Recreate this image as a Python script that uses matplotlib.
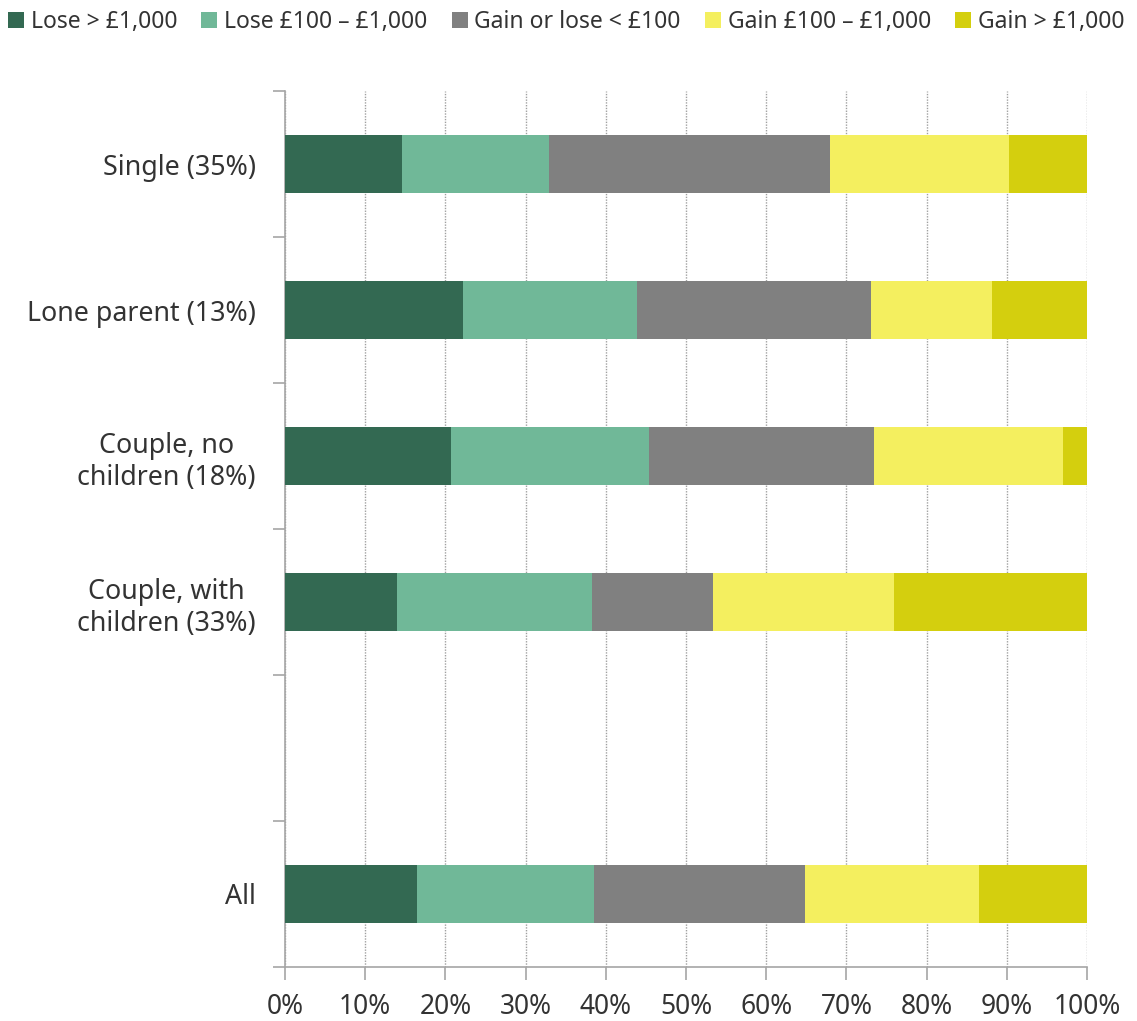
import numpy as np
import matplotlib.pyplot as plt

plt.rcParams['font.family'] = ['Noto Sans', 'DejaVu Sans']

# Categories (top to bottom) and their slot positions; slot 4 is left empty
categories = ['Single (35%)', 'Lone parent (13%)', 'Couple, no\nchildren (18%)',
              'Couple, with\nchildren (33%)', 'All']
positions = [0, 1, 2, 3, 5]

series_names = ['Lose > £1,000', 'Lose £100 – £1,000', 'Gain or lose < £100',
                'Gain £100 – £1,000', 'Gain > £1,000']
lose_big = [14.6, 22.2, 20.7, 14.0, 16.5]
lose_mid = [18.3, 21.7, 24.7, 24.3, 22.0]
small = [35.1, 29.2, 28.0, 15.1, 26.3]
gain_mid = [22.3, 15.1, 23.6, 22.5, 21.7]
gain_big = [9.7, 11.8, 3.0, 24.1, 13.5]
colors = ['#336952', '#70b898', '#808080', '#f4ef5f', '#d4cf0e']

series = [lose_big, lose_mid, small, gain_mid, gain_big]

fig = plt.figure(figsize=(11.37, 10.21), dpi=100)
ax = fig.add_axes([285 / 1137, 1 - 967 / 1021, 802 / 1137, 876 / 1021])

left = np.zeros(len(categories))
for vals, name, col in zip(series, series_names, colors):
    ax.barh(positions, vals, left=left, height=0.4, color=col, label=name, zorder=3)
    left += np.array(vals)

ax.set_xlim(0, 100)
ax.set_ylim(5.5, -0.5)
ax.set_xticks(np.arange(0, 101, 10))
ax.set_xticklabels([f'{v}%' for v in range(0, 101, 10)])
ax.set_yticks(positions)
ax.set_yticklabels(categories, multialignment='center', linespacing=1.2)
ax.set_yticks(np.arange(-0.5, 5.6, 1), minor=True)

txt = '#333333'
spine = '#a6a6a6'
ax.tick_params(axis='y', which='major', length=0, pad=21, labelsize=19.3, labelcolor=txt)
ax.tick_params(axis='y', which='minor', length=9, color=spine, width=1.2)
ax.tick_params(axis='x', length=9, color=spine, width=1.2, pad=10, labelsize=19, labelcolor=txt)

ax.grid(axis='x', linestyle=(0, (1, 1)), color='#a0a0a0', linewidth=1, zorder=0)
ax.spines['top'].set_visible(False)
ax.spines['right'].set_visible(False)
for s in ['left', 'bottom']:
    ax.spines[s].set_color(spine)
    ax.spines[s].set_linewidth(1.2)

leg = fig.legend(loc='upper center', bbox_to_anchor=(0.498, 1.0), ncol=5, frameon=False,
                 fontsize=16.5, handlelength=0.7, handleheight=0.7, handletextpad=0.3,
                 columnspacing=1.05, borderaxespad=0.05)
for t in leg.get_texts():
    t.set_color(txt)

fig.savefig('out.png', dpi=100)
